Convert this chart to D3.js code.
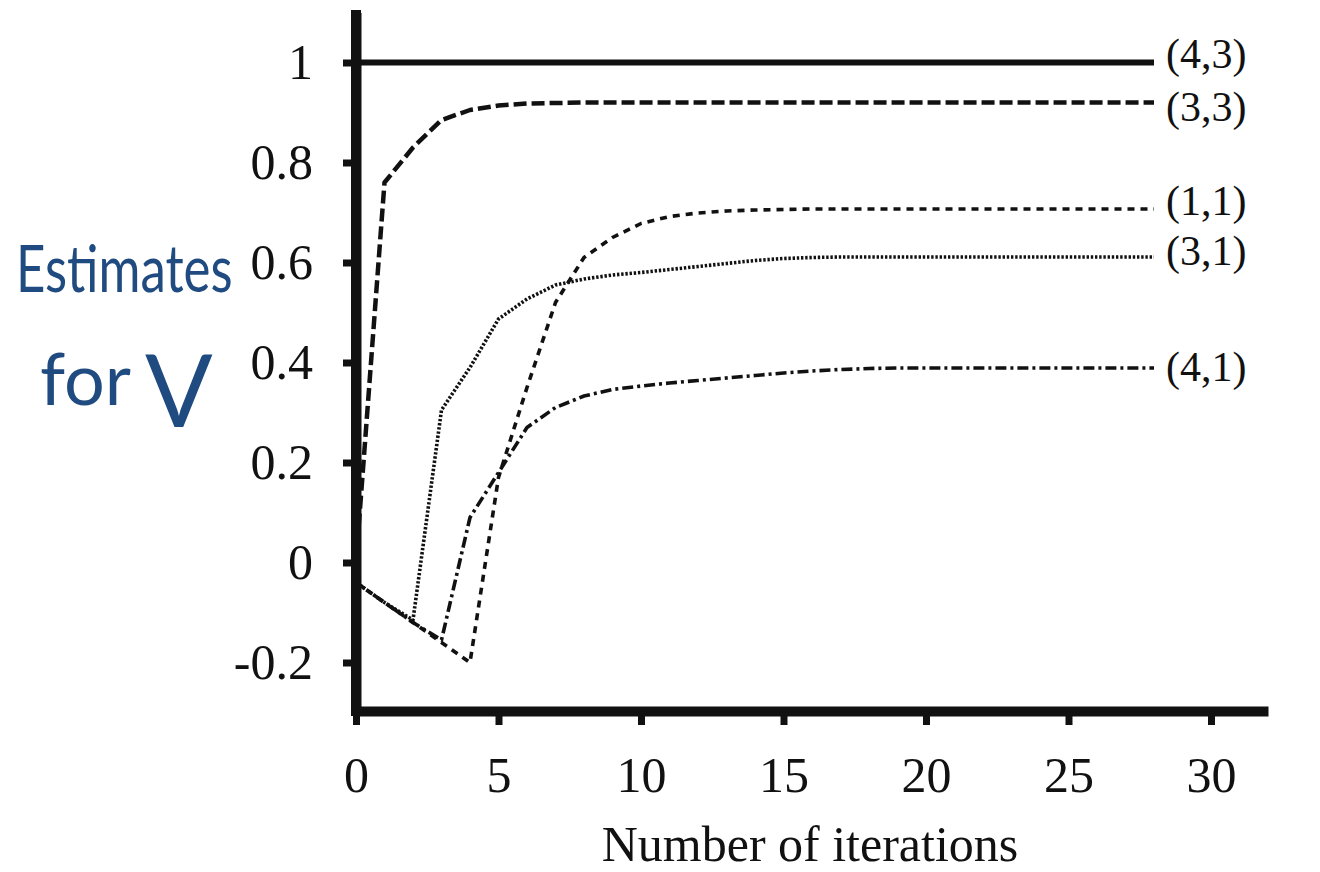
<!DOCTYPE html>
<html>
<head>
<meta charset="utf-8">
<script src="https://cdn.jsdelivr.net/npm/d3@7"></script>
<style>
  html, body { margin: 0; padding: 0; background: #fff; }
  svg { display: block; }
</style>
</head>
<body>
<svg id="chart" width="1320" height="872"></svg>
<script>
// ---- data ----
const iterations = d3.range(0, 29);
const seriesNames = ["(4,3)", "(3,3)", "(1,1)", "(3,1)", "(4,1)"];
const v43 = [1,1,1,1,1,1,1,1,1,1,1,1,1,1,1,1,1,1,1,1,1,1,1,1,1,1,1,1,1];
const v33 = [0,0.76,0.83,0.885,0.905,0.914,0.918,0.919,0.92,0.92,0.92,0.92,0.92,0.92,0.92,0.92,0.92,0.92,0.92,0.92,0.92,0.92,0.92,0.92,0.92,0.92,0.92,0.92,0.92];
const v11 = [-0.04,-0.08,-0.12,-0.16,-0.2,0.17,0.35,0.52,0.61,0.65,0.678,0.692,0.699,0.703,0.705,0.706,0.707,0.707,0.707,0.707,0.707,0.707,0.707,0.707,0.707,0.707,0.707,0.707,0.707];
const v31 = [-0.04,-0.08,-0.115,0.305,0.39,0.487,0.527,0.555,0.567,0.575,0.58,0.586,0.592,0.598,0.604,0.608,0.61,0.611,0.611,0.611,0.611,0.611,0.611,0.611,0.611,0.611,0.611,0.611,0.611];
const v41 = [-0.04,-0.08,-0.12,-0.155,0.09,0.18,0.27,0.31,0.333,0.346,0.353,0.359,0.364,0.369,0.374,0.379,0.383,0.386,0.388,0.389,0.389,0.389,0.389,0.389,0.389,0.389,0.389,0.389,0.389];
const xTicks = [0, 5, 10, 15, 20, 25, 30];
const yTicks = [-0.2, 0, 0.2, 0.4, 0.6, 0.8, 1];
const yTickLabels = ["-0.2", "0", "0.2", "0.4", "0.6", "0.8", "1"];
const xTitle = "Number of iterations";

// ---- styles ----
const seriesValues = [v43, v33, v11, v31, v41];
const styles = [
  { width: 6, dash: null, labelDy: 5 },
  { width: 4.5, dash: "13,5", labelDy: 18 },
  { width: 3.6, dash: "7,6", labelDy: 6 },
  { width: 3.6, dash: "2.4,1.8", labelDy: 8 },
  { width: 3.6, dash: "11,4,3,4", labelDy: 13 }
];

const svg = d3.select("#chart");
const x = d3.scaleLinear().domain([0, 32]).range([356, 1268]);
const y = d3.scaleLinear().domain([-0.3, 1.1]).range([712.5, 12.5]);
const serif = "'Liberation Serif', 'Times New Roman', serif";
const ink = "#111";

// lines
const line = d3.line().x((d, i) => x(iterations[i])).y(d => y(d));
seriesValues.forEach((vals, k) => {
  svg.append("path")
    .datum(vals)
    .attr("d", line)
    .attr("fill", "none")
    .attr("stroke", ink)
    .attr("stroke-width", styles[k].width)
    .attr("stroke-dasharray", styles[k].dash)
    .attr("stroke-linejoin", "round");
  svg.append("text")
    .attr("x", x(iterations[iterations.length - 1]) + 12)
    .attr("y", y(vals[vals.length - 1]) + styles[k].labelDy)
    .attr("font-family", serif)
    .attr("font-size", 42)
    .attr("fill", ink)
    .text(seriesNames[k]);
});

// y axis
const yAxis = d3.axisLeft(y).tickValues(yTicks).tickSize(13).tickSizeOuter(0).tickPadding(30)
  .tickFormat((d, i) => yTickLabels[i]);
const gy = svg.append("g").attr("transform", "translate(356,0)").call(yAxis);
gy.select(".domain").attr("stroke", ink).attr("stroke-width", 10);
gy.selectAll(".tick line").attr("stroke", ink).attr("stroke-width", 7);
gy.selectAll(".tick text").attr("font-family", serif).attr("font-size", 50).attr("fill", ink)
  .attr("dy", "0.32em");

// x axis
const xAxis = d3.axisBottom(x).tickValues(xTicks).tickSize(14).tickSizeOuter(0).tickPadding(10);
const gx = svg.append("g").attr("transform", "translate(0,711)").call(xAxis);
gx.select(".domain").attr("stroke", ink).attr("stroke-width", 10);
gx.selectAll(".tick line").attr("stroke", ink).attr("stroke-width", 7);
gx.selectAll(".tick text").attr("font-family", serif).attr("font-size", 50).attr("fill", ink)
  .attr("y", 81).attr("dy", 0);

// extend y axis line to bottom corner
svg.append("line").attr("x1", 356).attr("x2", 356).attr("y1", 10).attr("y2", 716)
  .attr("stroke", ink).attr("stroke-width", 10);

// x title
svg.append("text")
  .attr("x", 810).attr("y", 861)
  .attr("text-anchor", "middle")
  .attr("font-family", serif).attr("font-size", 50).attr("fill", ink)
  .text(xTitle);

// handwritten annotation
const hand = "#1f4b80";
svg.append("text")
  .attr("transform", "translate(16,292) scale(1,1.3)")
  .attr("font-family", "Lato, 'Open Sans', sans-serif")
  .attr("font-size", 51).attr("fill", hand)
  .text("Estimates");
const t2 = svg.append("text")
  .attr("x", 40).attr("y", 405)
  .attr("font-family", "Lato, 'Open Sans', sans-serif")
  .attr("fill", hand);
t2.append("tspan").attr("font-size", 72).text("for");
t2.append("tspan").attr("font-size", 100).attr("dx", 14).attr("dy", 22).text("V");
</script>
</body>
</html>
